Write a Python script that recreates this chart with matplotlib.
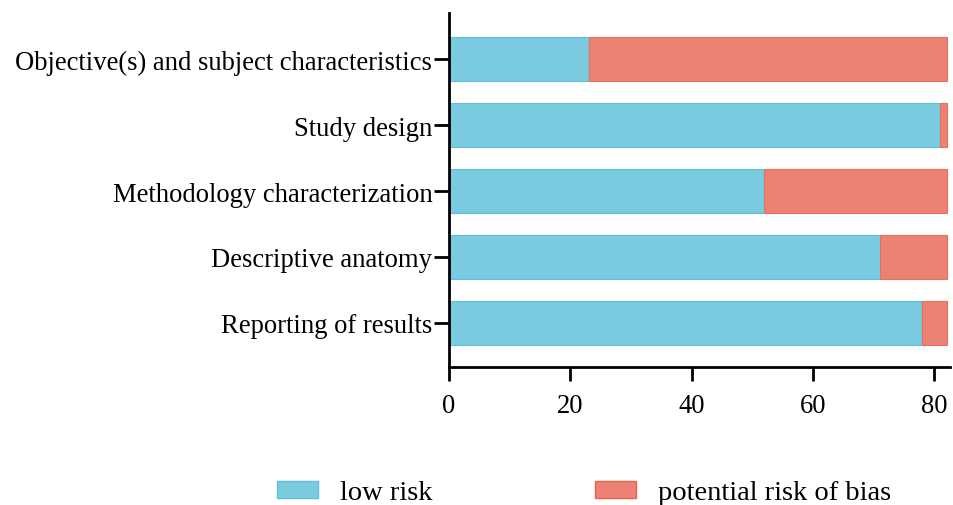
import matplotlib.pyplot as plt
from matplotlib.patches import Patch

categories = ['Objective(s) and subject characteristics', 'Study design',
              'Methodology characterization', 'Descriptive anatomy',
              'Reporting of results']
low_risk = [23, 81, 52, 71, 78]
potential_risk = [59, 1, 30, 11, 4]

plt.rcParams['font.family'] = ['Liberation Serif', 'DejaVu Serif']

fig = plt.figure(figsize=(9.54, 5.06), dpi=100)
ax = fig.add_axes([0.4706, 0.273, 0.5254, 0.699])

blue = '#7acae0'
red = '#ec8273'
y = list(range(len(categories)))[::-1]
ax.barh(y, low_risk, height=0.67, color=blue, edgecolor='#5fc0dc', linewidth=0.8)
ax.barh(y, potential_risk, left=low_risk, height=0.67, color=red,
        edgecolor='#e8705f', linewidth=0.8)

ax.set_yticks(y)
ax.set_yticklabels(categories, fontsize=19.2)
ax.set_xticks([0, 20, 40, 60, 80])
ax.tick_params(axis='x', labelsize=19.2, length=10, width=2, pad=9)
ax.tick_params(axis='y', length=11, width=2, pad=1)
ax.set_xlim(0, 82.6)
ax.set_ylim(-0.67, 4.7)
for s in ['top', 'right']:
    ax.spines[s].set_visible(False)
for s in ['left', 'bottom']:
    ax.spines[s].set_linewidth(2)

handles = [Patch(facecolor=blue, edgecolor='#5fc0dc', label='low risk'),
           Patch(facecolor=red, edgecolor='#e8604f', label='potential risk of bias')]
fig.legend(handles=handles, loc='center', bbox_to_anchor=(0.612, 0.024), ncol=2,
           frameon=False, fontsize=20.5, handlelength=1.45, handleheight=0.55,
           handletextpad=0.77, columnspacing=5.7)

fig.savefig('out.png', dpi=100)
